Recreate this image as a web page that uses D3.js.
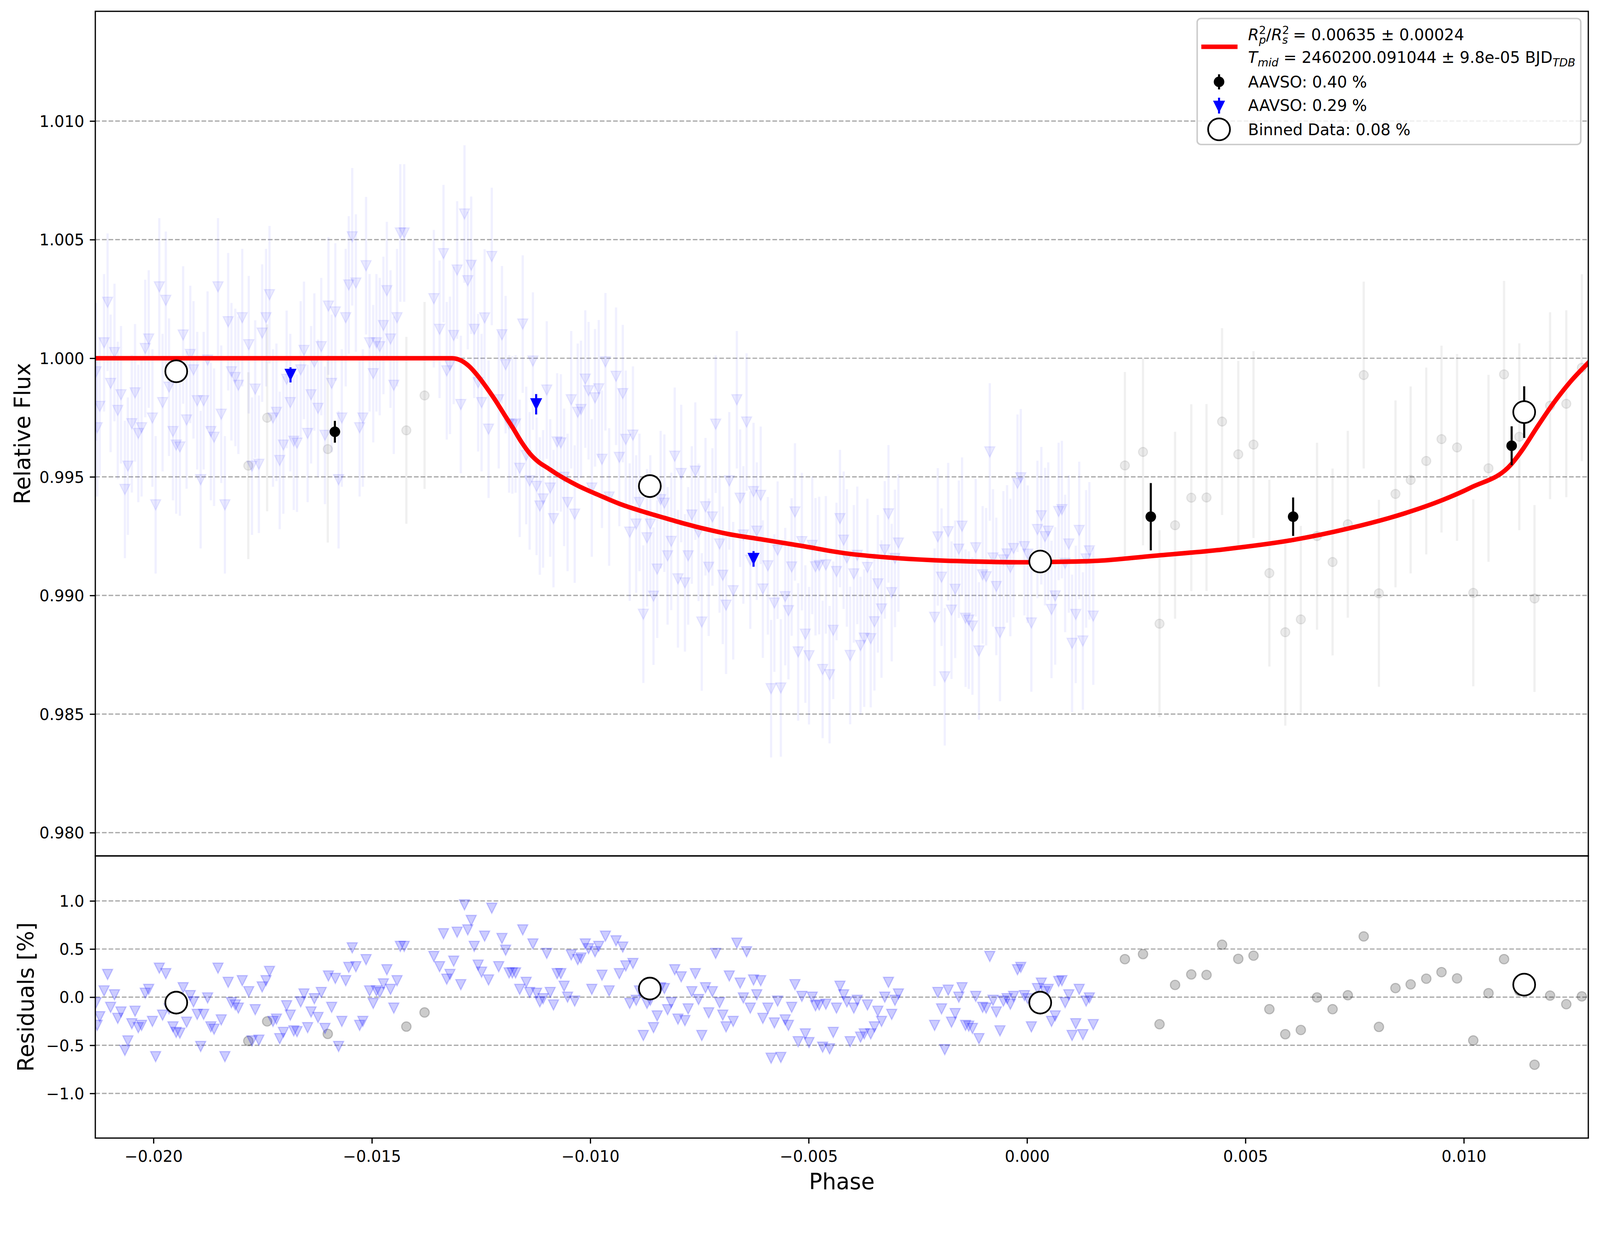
<!DOCTYPE html>
<html>
<head>
<meta charset="utf-8">
<script src="https://cdn.jsdelivr.net/npm/d3@7"></script>
<style>
  html, body { margin: 0; padding: 0; width: 100%; height: 100%; overflow: hidden; background: #fff; }
  #chart { display: block; width: 100vw; height: 100vh; }
  svg text { font-family: "DejaVu Sans", sans-serif; }
</style>
</head>
<body>
<svg id="chart" viewBox="0 0 4242 3192" preserveAspectRatio="xMidYMin meet"></svg>
<script>
// ---- data ----
// AAVSO 0.29 % (blue triangles)
const bluePhase = [
  -0.021314,-0.021289,-0.021230,-0.021131,-0.021051,-0.020982,-0.020893,-0.020818,-0.020744,-0.020655,
  -0.020586,-0.020496,-0.020422,-0.020348,-0.020273,-0.020189,-0.020110,-0.020025,-0.019951,-0.019867,
  -0.019792,-0.019718,-0.019644,-0.019554,-0.019480,-0.019396,-0.019321,-0.019242,-0.019158,-0.019084,
  -0.018999,-0.018920,-0.018851,-0.018761,-0.018687,-0.018613,-0.018523,-0.018449,-0.018365,-0.018290,
  -0.018216,-0.018127,-0.018057,-0.017968,-0.017819,-0.017745,-0.017671,-0.017587,-0.017512,-0.017423,
  -0.017344,-0.017264,-0.017185,-0.017111,-0.017026,-0.016952,-0.016868,-0.016788,-0.016714,-0.016630,
  -0.016555,-0.016471,-0.016392,-0.016317,-0.016233,-0.016159,-0.016074,-0.015995,-0.015921,-0.015837,
  -0.015762,-0.015688,-0.015599,-0.015529,-0.015450,-0.015366,-0.015281,-0.015207,-0.015133,-0.015053,
  -0.014969,-0.014895,-0.014820,-0.014736,-0.014657,-0.014573,-0.014498,-0.014424,-0.014349,-0.014260,
  -0.013581,
  -0.013450,-0.013360,-0.013286,-0.013212,-0.013127,-0.013048,-0.012964,-0.012880,-0.012805,-0.012726,
  -0.012657,-0.012567,-0.012488,-0.012419,-0.012329,-0.012255,-0.012096,-0.012022,-0.011938,-0.011858,
  -0.011784,-0.011710,-0.011616,-0.011546,-0.011467,-0.011388,-0.011313,-0.011229,-0.011155,-0.011080,
  -0.010996,-0.010917,-0.010842,-0.010758,-0.010674,-0.010599,-0.010520,-0.010436,-0.010357,-0.010287,
  -0.010213,-0.010114,-0.010039,-0.009965,-0.009891,-0.009806,-0.009732,-0.009653,-0.009568,-0.009410,
  -0.009335,-0.009256,-0.009187,-0.009097,-0.009023,-0.008949,-0.008874,-0.008785,-0.008701,-0.008626,
  -0.008552,-0.008468,-0.008389,-0.008304,-0.008230,-0.008146,-0.008066,-0.007992,-0.007918,-0.007833,
  -0.007759,-0.007675,-0.007595,-0.007521,-0.007447,-0.007362,-0.007288,-0.007204,-0.007129,-0.007040,
  -0.006966,-0.006891,-0.006817,-0.006728,-0.006644,-0.006569,-0.006495,-0.006421,-0.006336,-0.006262,
  -0.006188,-0.006098,-0.006049,
  -0.005934,-0.005860,-0.005785,-0.005711,-0.005637,-0.005537,-0.005463,-0.005389,-0.005314,-0.005240,
  -0.005156,-0.005076,-0.004992,-0.004918,-0.004843,-0.004759,-0.004680,-0.004606,-0.004521,-0.004437,
  -0.004363,-0.004283,-0.004199,-0.004125,-0.004050,-0.003966,-0.003887,-0.003812,-0.003728,-0.003654,
  -0.003579,-0.003495,-0.003416,-0.003332,-0.003257,-0.003173,-0.003099,-0.003024,-0.002945,-0.002117,
  -0.002043,-0.001958,-0.001884,-0.001805,-0.001730,-0.001646,-0.001562,-0.001488,-0.001408,-0.001334,
  -0.001250,-0.001175,-0.001101,-0.001017,-0.000937,-0.000853,-0.000779,-0.000704,-0.000620,-0.000541,
  -0.000457,-0.000382,-0.000308,-0.000219,-0.000144,-0.000060,0.000015,0.000099,0.000238,0.000327,
  0.000411,0.000485,0.000560,0.000644,0.000723,0.000798,0.000872,0.000956,0.001031,0.001115,
  0.001194,0.001278,0.001353,0.001427,0.001516
];
const blueFlux = [
  0.99943,0.99707,0.99797,1.00065,1.00236,0.99894,1.00024,0.99780,0.99846,0.99447,
  0.99545,0.99724,0.99854,0.99683,0.99707,1.00041,1.00081,0.99748,0.99382,1.00301,
  0.99813,1.00244,0.99878,0.99691,0.99634,0.99626,1.00098,0.99740,1.00016,0.99951,
  0.99821,0.99488,0.99821,0.99992,0.99691,0.99667,1.00301,0.99764,0.99382,1.00154,
  0.99943,0.99919,0.99886,1.00171,1.00057,0.99545,0.99870,0.99553,1.00106,1.00171,
  1.00268,0.99748,0.99772,0.99569,0.99634,0.99911,0.99813,0.99650,0.99642,0.99951,
  1.00033,0.99683,0.99846,0.99984,0.99789,1.00049,0.99675,1.00220,0.99894,1.00195,
  0.99488,0.99748,1.00171,1.00309,1.00512,1.00317,0.99707,0.99748,1.00390,1.00065,
  0.99935,1.00065,1.00049,1.00138,1.00285,1.00081,0.99886,1.00171,1.00528,1.00528,
  1.00251,
  1.00122,1.00441,0.99947,0.99970,1.00096,1.00372,0.99805,1.00608,1.00327,1.00392,
  1.00122,0.99897,0.99813,1.00170,0.99701,1.00429,0.99825,1.00099,0.99973,0.99723,
  0.99719,0.99723,0.99536,1.00144,0.99590,0.99483,0.99988,0.99460,0.99377,0.99407,
  0.99866,0.99453,0.99324,0.99647,0.99643,0.99498,0.99392,0.99825,0.99343,0.99772,
  0.99784,0.99912,0.99863,0.99453,0.99833,0.99871,0.99574,0.99985,0.99415,0.99924,
  0.99582,0.99851,0.99658,0.99267,0.99676,0.99301,0.99392,0.98921,0.99243,0.99301,
  0.98997,0.99111,0.99404,0.99389,0.99167,0.99228,0.99587,0.99070,0.99514,0.99053,
  0.99167,0.99339,0.99524,0.99266,0.98888,0.99374,0.99119,0.99331,0.99722,0.99217,
  0.99085,0.98959,0.99483,0.99020,0.99825,0.99410,0.99255,0.99731,0.99149,0.99438,
  0.99271,0.99422,0.99027,
  0.99125,0.98607,0.98968,0.99191,0.98610,0.98995,0.98936,0.99120,0.99352,0.98762,
  0.99227,0.98837,0.98746,0.99211,0.99121,0.99126,0.98688,0.99129,0.98666,0.98853,
  0.99101,0.99324,0.99233,0.99158,0.98747,0.99091,0.99169,0.98789,0.98820,0.99118,
  0.98818,0.98889,0.99049,0.98943,0.99192,0.99344,0.99012,0.99156,0.99221,0.98908,
  0.99247,0.99077,0.98657,0.99269,0.98938,0.99026,0.99195,0.99292,0.98904,0.98896,
  0.98871,0.99201,0.98766,0.99087,0.99079,0.99605,0.99158,0.99038,0.98844,0.99150,
  0.99175,0.99118,0.99198,0.99473,0.99496,0.99206,0.99174,0.98884,0.99278,0.99336,
  0.99248,0.99271,0.98941,0.98998,0.99354,0.99362,0.99135,0.99217,0.98798,0.98920,
  0.99274,0.98808,0.99154,0.99188,0.98913
];
const blueResid = [
  -0.057,-0.293,-0.203,0.065,0.236,-0.106,0.024,-0.220,-0.154,-0.553,
  -0.455,-0.276,-0.146,-0.317,-0.293,0.041,0.081,-0.252,-0.618,0.301,
  -0.187,0.244,-0.122,-0.309,-0.366,-0.374,0.098,-0.260,0.016,-0.049,
  -0.179,-0.512,-0.179,-0.008,-0.309,-0.333,0.301,-0.236,-0.618,0.154,
  -0.057,-0.081,-0.114,0.171,0.057,-0.455,-0.130,-0.447,0.106,0.171,
  0.268,-0.252,-0.228,-0.431,-0.366,-0.089,-0.187,-0.350,-0.358,-0.049,
  0.033,-0.317,-0.154,-0.016,-0.211,0.049,-0.325,0.220,-0.106,0.195,
  -0.512,-0.252,0.171,0.309,0.512,0.317,-0.293,-0.252,0.390,0.065,
  -0.065,0.065,0.049,0.138,0.285,0.081,-0.114,0.171,0.528,0.528,
  0.423,
  0.317,0.659,0.187,0.236,0.374,0.675,0.130,0.959,0.699,0.797,
  0.528,0.333,0.260,0.634,0.179,0.924,0.317,0.610,0.488,0.252,
  0.252,0.252,0.081,0.699,0.154,0.049,0.553,0.041,-0.049,-0.016,
  0.455,0.049,-0.081,0.244,0.244,0.114,0.000,0.439,-0.041,0.390,
  0.407,0.553,0.504,0.081,0.472,0.528,0.228,0.634,0.065,0.585,
  0.244,0.520,0.325,-0.065,0.350,-0.033,0.065,-0.398,-0.065,-0.033,
  -0.317,-0.195,0.098,0.089,-0.130,-0.057,0.285,-0.228,0.211,-0.244,
  -0.122,0.057,0.244,-0.024,-0.398,0.098,-0.163,0.057,0.455,-0.057,
  -0.187,-0.309,0.220,-0.252,0.561,0.146,-0.008,0.472,-0.114,0.179,
  0.024,0.171,-0.220,
  -0.114,-0.634,-0.268,-0.041,-0.626,-0.236,-0.293,-0.106,0.130,-0.463,
  0.008,-0.382,-0.472,0.000,-0.089,-0.081,-0.520,-0.073,-0.537,-0.366,
  -0.114,0.114,0.024,-0.049,-0.463,-0.114,-0.033,-0.415,-0.382,-0.081,
  -0.382,-0.309,-0.146,-0.252,0.000,0.154,-0.179,-0.033,0.033,-0.293,
  0.049,-0.122,-0.545,0.073,-0.260,-0.171,0.000,0.098,-0.293,-0.301,
  -0.325,0.008,-0.431,-0.106,-0.114,0.423,-0.033,-0.154,-0.350,-0.041,
  -0.016,-0.073,0.008,0.285,0.309,0.016,-0.016,-0.309,0.089,0.146,
  0.057,0.081,-0.252,-0.195,0.163,0.171,-0.057,0.024,-0.398,-0.276,
  0.081,-0.390,-0.041,-0.008,-0.285
];
const blueErr = 0.0029;

// AAVSO 0.40 % (grey circles)
const grayPhase = [
  -0.017829,-0.017398,-0.016010,-0.014211,-0.013794,
  0.002240,0.002655,0.003033,0.003389,0.003760,0.004109,0.004465,0.004836,0.005185,0.005548,
  0.005912,0.006268,0.006639,0.006995,0.007344,0.007708,0.008056,0.008435,0.008783,0.009140,
  0.009489,0.009845,0.010216,0.010565,0.010921,0.011270,0.011619,0.011975,0.012346,0.012702
];
const grayFlux = [
  0.99547,0.99749,0.99617,0.99696,0.99843,
  0.99548,0.99605,0.98881,0.99296,0.99412,0.99413,0.99733,0.99595,0.99636,0.99094,
  0.98845,0.98899,0.99250,0.99141,0.99300,0.99929,0.99009,0.99428,0.99487,0.99567,
  0.99659,0.99624,0.99011,0.99536,0.99932,0.99669,0.98987,0.99800,0.99808,0.99960
];
const grayResid = [
  -0.455,-0.252,-0.382,-0.306,-0.159,
  0.395,0.447,-0.281,0.127,0.236,0.231,0.545,0.398,0.431,-0.125,
  -0.385,-0.341,-0.003,-0.125,0.020,0.631,-0.309,0.094,0.133,0.192,
  0.260,0.195,-0.450,0.041,0.395,0.065,-0.702,0.016,-0.073,0.008
];
const grayErr = 0.00394;

// binned points of each data set
const bin40Phase = [-0.015847, 0.002833, 0.006092, 0.011095];
const bin40Flux  = [0.99690, 0.99332, 0.99332, 0.99631];
const bin40Err   = [0.00046, 0.00142, 0.00081, 0.00082];
const bin29Phase = [-0.016863, -0.011239, -0.006262];
const bin29Flux  = [0.99930, 0.99806, 0.99154];
const bin29Err   = [0.00032, 0.00043, 0.00033];

// binned data of all sets (open circles)
const binPhase = [-0.019479, -0.008636, 0.000302, 0.011382];
const binFlux  = [0.99945, 0.99461, 0.99143, 0.99773];
const binErr   = [0.00030, 0.00030, 0.00030, 0.00109];
const binResid = [-0.057, 0.089, -0.057, 0.130];

// transit model (red line)
const modelPhase = [
  -0.021400,-0.013162,-0.012964,-0.012766,-0.012567,-0.012369,-0.012171,-0.011973,-0.011774,-0.011576,
  -0.011378,-0.011179,-0.010981,-0.010783,-0.010287,-0.009791,-0.009296,-0.008800,-0.008304,-0.007809,
  -0.007313,-0.006817,-0.006100,-0.005166,-0.004174,-0.003183,-0.002191,-0.001200,-0.000208,0.000783,
  0.001616,0.002833,0.004493,0.006092,0.007353,0.008643,0.009398,0.010152,0.011095,0.011360,
  0.011662,0.012039,0.012416,0.012900
];
const modelFlux = [
  1.00000,1.00000,0.99991,0.99965,0.99924,0.99875,0.99822,0.99764,0.99707,0.99647,
  0.99597,0.99562,0.99538,0.99514,0.99463,0.99422,0.99384,0.99354,0.99327,0.99301,
  0.99278,0.99258,0.99237,0.99209,0.99178,0.99160,0.99149,0.99143,0.99140,0.99142,
  0.99146,0.99166,0.99194,0.99234,0.99282,0.99346,0.99394,0.99454,0.99555,0.99619,
  0.99705,0.99807,0.99896,0.99990
];

const fluxTicks  = [0.980, 0.985, 0.990, 0.995, 1.000, 1.005, 1.010];
const residTicks = [-1.0, -0.5, 0.0, 0.5, 1.0];
const phaseTicks = [-0.020, -0.015, -0.010, -0.005, 0.000, 0.005, 0.010];

// ---- layout ----
const box = { left: 252.7, right: 4211, top: 30, mid: 2269, bottom: 3017 };
const tickFont = 41.67, labelFont = 58.33, lw = 3.3;

const svg = d3.select("#chart");
svg.append("rect").attr("width", 4242).attr("height", 3192).attr("fill", "#fff");

const x = d3.scaleLinear().domain([-0.021332, 0.012850]).range([box.left, box.right]);
const yFlux = d3.scaleLinear().domain([0.97902, 1.014625]).range([box.mid, box.top]);
const yRes = d3.scaleLinear().domain([-1.464, 1.4675]).range([box.bottom, box.mid]);

const defs = svg.append("defs");
defs.append("clipPath").attr("id", "clipTop").append("rect")
  .attr("x", box.left).attr("y", box.top)
  .attr("width", box.right - box.left).attr("height", box.mid - box.top);
defs.append("clipPath").attr("id", "clipRes").append("rect")
  .attr("x", box.left).attr("y", box.mid)
  .attr("width", box.right - box.left).attr("height", box.bottom - box.mid);

const tri = (s) => `M${-s / 2},${-s / 2}L${s / 2},${-s / 2}L0,${s / 2}Z`;

function zipData(ph, a, b) {
  return ph.map((p, i) => ({ p: p, v: a[i], e: b ? (Array.isArray(b) ? b[i] : b) : 0 }));
}

// grid lines
function grid(g, scale, ticks) {
  g.selectAll("line.grid").data(ticks).join("line")
    .attr("class", "grid")
    .attr("x1", box.left).attr("x2", box.right)
    .attr("y1", (d) => scale(d)).attr("y2", (d) => scale(d))
    .attr("stroke", "#aaaaaa").attr("stroke-width", lw)
    .attr("stroke-dasharray", "12.3,5.3");
}

// ---- flux panel ----
const fluxG = svg.append("g").attr("clip-path", "url(#clipTop)");
grid(fluxG, yFlux, fluxTicks);

const grayTop = zipData(grayPhase, grayFlux, grayErr);
const blueTop = zipData(bluePhase, blueFlux, blueErr);

fluxG.append("g").selectAll("line").data(grayTop).join("line")
  .attr("x1", (d) => x(d.p)).attr("x2", (d) => x(d.p))
  .attr("y1", (d) => yFlux(d.v - d.e)).attr("y2", (d) => yFlux(d.v + d.e))
  .attr("stroke", "#000").attr("stroke-opacity", 0.06).attr("stroke-width", 6);
fluxG.append("g").selectAll("circle").data(grayTop).join("circle")
  .attr("cx", (d) => x(d.p)).attr("cy", (d) => yFlux(d.v)).attr("r", 12)
  .attr("fill", "#000").attr("fill-opacity", 0.08)
  .attr("stroke", "#000").attr("stroke-opacity", 0.08).attr("stroke-width", 3);

fluxG.append("g").selectAll("line").data(blueTop).join("line")
  .attr("x1", (d) => x(d.p)).attr("x2", (d) => x(d.p))
  .attr("y1", (d) => yFlux(d.v - d.e)).attr("y2", (d) => yFlux(d.v + d.e))
  .attr("stroke", "#0000ff").attr("stroke-opacity", 0.06).attr("stroke-width", 6);
fluxG.append("g").selectAll("path").data(blueTop).join("path")
  .attr("transform", (d) => `translate(${x(d.p)},${yFlux(d.v)})`)
  .attr("d", tri(27))
  .attr("fill", "#0000ff").attr("fill-opacity", 0.08)
  .attr("stroke", "#0000ff").attr("stroke-opacity", 0.08).attr("stroke-width", 3);

// model
const modelData = modelPhase.map((p, i) => ({ p: p, v: modelFlux[i] }));
fluxG.append("path").datum(modelData)
  .attr("fill", "none").attr("stroke", "#ff0000").attr("stroke-width", 12)
  .attr("stroke-linejoin", "round")
  .attr("d", d3.line().curve(d3.curveMonotoneX).x((d) => x(d.p)).y((d) => yFlux(d.v)));

// binned points per data set
const b40 = zipData(bin40Phase, bin40Flux, bin40Err);
const b29 = zipData(bin29Phase, bin29Flux, bin29Err);
fluxG.append("g").selectAll("line").data(b40).join("line")
  .attr("x1", (d) => x(d.p)).attr("x2", (d) => x(d.p))
  .attr("y1", (d) => yFlux(d.v - d.e)).attr("y2", (d) => yFlux(d.v + d.e))
  .attr("stroke", "#000").attr("stroke-width", 5.5);
fluxG.append("g").selectAll("circle").data(b40).join("circle")
  .attr("cx", (d) => x(d.p)).attr("cy", (d) => yFlux(d.v)).attr("r", 14).attr("fill", "#000");
fluxG.append("g").selectAll("line").data(b29).join("line")
  .attr("x1", (d) => x(d.p)).attr("x2", (d) => x(d.p))
  .attr("y1", (d) => yFlux(d.v - d.e)).attr("y2", (d) => yFlux(d.v + d.e))
  .attr("stroke", "#0000ff").attr("stroke-width", 5.5);
fluxG.append("g").selectAll("path").data(b29).join("path")
  .attr("transform", (d) => `translate(${x(d.p)},${yFlux(d.v)})`)
  .attr("d", tri(32)).attr("fill", "#0000ff");

// binned data of all sets
const bAll = zipData(binPhase, binFlux, binErr);
fluxG.append("g").selectAll("line").data(bAll).join("line")
  .attr("x1", (d) => x(d.p)).attr("x2", (d) => x(d.p))
  .attr("y1", (d) => yFlux(d.v - d.e)).attr("y2", (d) => yFlux(d.v + d.e))
  .attr("stroke", "#000").attr("stroke-width", 5.5);
fluxG.append("g").selectAll("circle").data(bAll).join("circle")
  .attr("cx", (d) => x(d.p)).attr("cy", (d) => yFlux(d.v)).attr("r", 29)
  .attr("fill", "#fff").attr("stroke", "#000").attr("stroke-width", 4.5);

// ---- residual panel ----
const resG = svg.append("g").attr("clip-path", "url(#clipRes)");
grid(resG, yRes, residTicks);

resG.append("g").selectAll("circle").data(zipData(grayPhase, grayResid)).join("circle")
  .attr("cx", (d) => x(d.p)).attr("cy", (d) => yRes(d.v)).attr("r", 12.5)
  .attr("fill", "#000").attr("fill-opacity", 0.2)
  .attr("stroke", "#000").attr("stroke-opacity", 0.2).attr("stroke-width", 3);
resG.append("g").selectAll("path").data(zipData(bluePhase, blueResid)).join("path")
  .attr("transform", (d) => `translate(${x(d.p)},${yRes(d.v)})`)
  .attr("d", tri(27))
  .attr("fill", "#0000ff").attr("fill-opacity", 0.2)
  .attr("stroke", "#0000ff").attr("stroke-opacity", 0.2).attr("stroke-width", 3);
resG.append("g").selectAll("circle").data(zipData(binPhase, binResid)).join("circle")
  .attr("cx", (d) => x(d.p)).attr("cy", (d) => yRes(d.v)).attr("r", 29)
  .attr("fill", "#fff").attr("stroke", "#000").attr("stroke-width", 4.5);

// ---- axes ----
function styleAxis(g) {
  g.attr("font-family", "DejaVu Sans").attr("font-size", tickFont);
  g.select(".domain").remove();
  g.selectAll(".tick line").attr("stroke", "#000").attr("stroke-width", lw);
  g.selectAll(".tick text").attr("fill", "#000");
}

svg.append("g").attr("transform", `translate(${box.left},0)`)
  .call(d3.axisLeft(yFlux).tickValues(fluxTicks).tickFormat(d3.format(".3f"))
    .tickSize(14.6).tickPadding(14.6).tickSizeOuter(0))
  .call(styleAxis)
  .call((g) => g.selectAll(".tick text").attr("dy", "0.36em"));

svg.append("g").attr("transform", `translate(${box.left},0)`)
  .call(d3.axisLeft(yRes).tickValues(residTicks).tickFormat(d3.format(".1f"))
    .tickSize(14.6).tickPadding(14.6).tickSizeOuter(0))
  .call(styleAxis)
  .call((g) => g.selectAll(".tick text").attr("dy", "0.36em"));

svg.append("g").attr("transform", `translate(0,${box.bottom})`)
  .call(d3.axisBottom(x).tickValues(phaseTicks).tickFormat(d3.format(".3f"))
    .tickSize(14.6).tickPadding(14.6).tickSizeOuter(0))
  .call(styleAxis)
  .call((g) => g.selectAll(".tick text").attr("dy", "0.82em"));

// spines
[[box.top, box.mid], [box.mid, box.bottom]].forEach(([t, b]) => {
  svg.append("rect")
    .attr("x", box.left).attr("y", t)
    .attr("width", box.right - box.left).attr("height", b - t)
    .attr("fill", "none").attr("stroke", "#000").attr("stroke-width", lw);
});

// axis labels
svg.append("text")
  .attr("transform", `translate(80,${(box.top + box.mid) / 2}) rotate(-90)`)
  .attr("text-anchor", "middle").attr("font-size", labelFont).text("Relative Flux");
svg.append("text")
  .attr("transform", `translate(89,${(box.mid + box.bottom) / 2}) rotate(-90)`)
  .attr("text-anchor", "middle").attr("font-size", labelFont).text("Residuals [%]");
svg.append("text")
  .attr("x", (box.left + box.right) / 2).attr("y", 3152)
  .attr("text-anchor", "middle").attr("font-size", labelFont).text("Phase");

// ---- legend ----
const leg = svg.append("g");
leg.append("rect")
  .attr("x", 3174).attr("y", 49).attr("width", 1017).attr("height", 334).attr("rx", 10)
  .attr("fill", "#fff").attr("fill-opacity", 0.8)
  .attr("stroke", "#cccccc").attr("stroke-width", 4);
const hx = 3232, tx = 3309;
leg.append("line").attr("x1", 3185).attr("x2", 3281).attr("y1", 124).attr("y2", 124)
  .attr("stroke", "#ff0000").attr("stroke-width", 12);
leg.append("line").attr("x1", hx).attr("x2", hx).attr("y1", 197).attr("y2", 237)
  .attr("stroke", "#000").attr("stroke-width", 5.5);
leg.append("circle").attr("cx", hx).attr("cy", 217).attr("r", 14).attr("fill", "#000");
leg.append("line").attr("x1", hx).attr("x2", hx).attr("y1", 259).attr("y2", 301)
  .attr("stroke", "#0000ff").attr("stroke-width", 5.5);
leg.append("path").attr("transform", `translate(${hx},283)`).attr("d", tri(32)).attr("fill", "#0000ff");
leg.append("circle").attr("cx", hx).attr("cy", 343).attr("r", 29)
  .attr("fill", "#fff").attr("stroke", "#000").attr("stroke-width", 4.5);

const small = 29.2, supW = 18.6;
const t1 = leg.append("text").attr("x", tx).attr("y", 107).attr("font-size", tickFont);
t1.append("tspan").attr("font-style", "italic").text("R");
t1.append("tspan").attr("font-size", small).attr("dy", -17).text("2");
t1.append("tspan").attr("font-size", small).attr("font-style", "italic").attr("dx", -supW).attr("dy", 26).text("p");
t1.append("tspan").attr("dy", -9).text("/");
t1.append("tspan").attr("font-style", "italic").text("R");
t1.append("tspan").attr("font-size", small).attr("dy", -17).text("2");
t1.append("tspan").attr("font-size", small).attr("font-style", "italic").attr("dx", -supW).attr("dy", 26).text("s");
t1.append("tspan").attr("dy", -9).text(" = 0.00635 \u00b1 0.00024");

const t2 = leg.append("text").attr("x", tx).attr("y", 167).attr("font-size", tickFont);
t2.append("tspan").attr("font-style", "italic").text("T");
t2.append("tspan").attr("font-size", small).attr("font-style", "italic").attr("dy", 9).text("mid");
t2.append("tspan").attr("dy", -9).text(" = 2460200.091044 \u00b1 9.8e-05 BJD");
t2.append("tspan").attr("font-size", small).attr("font-style", "italic").attr("dy", 9).text("TDB");

leg.append("text").attr("x", tx).attr("y", 232).attr("font-size", tickFont).text("AAVSO: 0.40 %");
leg.append("text").attr("x", tx).attr("y", 294).attr("font-size", tickFont).text("AAVSO: 0.29 %");
leg.append("text").attr("x", tx).attr("y", 358).attr("font-size", tickFont).text("Binned Data: 0.08 %");
</script>
</body>
</html>
